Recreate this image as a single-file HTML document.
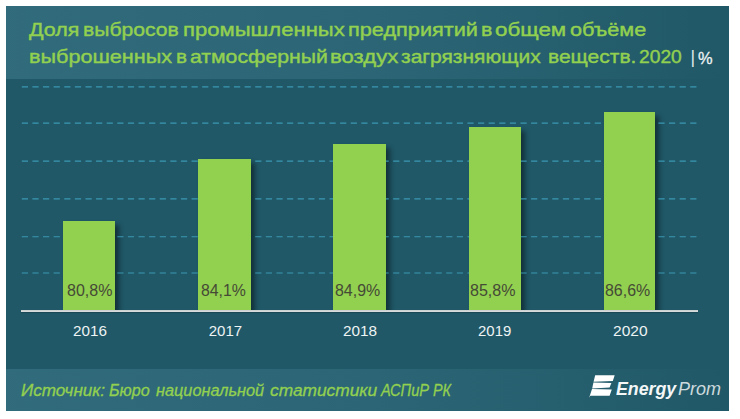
<!DOCTYPE html>
<html lang="ru">
<head>
<meta charset="utf-8">
<title>Доля выбросов промышленных предприятий в общем объёме выброшенных в атмосферный воздух загрязняющих веществ. 2020</title>
<style>
html,body{margin:0;padding:0;background:#fff;}
body{width:740px;height:419px;position:relative;overflow:hidden;font-family:"Liberation Sans",sans-serif;}
#panel{position:absolute;left:6px;top:6px;width:723px;height:405px;background:#205867;overflow:hidden;}
.band{position:absolute;left:0;width:723px;background:linear-gradient(90deg,rgba(72,134,152,0.42) 0%,rgba(72,134,152,0.30) 50%,rgba(72,134,152,0.0) 100%);}
#tband{top:0;height:72.5px;}
#fband{top:363px;height:42px;}
.t{position:absolute;white-space:pre;transform-origin:0 0;line-height:1;font-family:"Liberation Sans",sans-serif;}
#bars,#shadows{position:absolute;left:0;top:0;width:723px;height:304px;overflow:hidden;}
.bar{position:absolute;background:#92D050;}
.sh{box-shadow:4px 4px 5px rgba(0,0,0,.45);}
#axis{position:absolute;left:15px;top:303.8px;width:677px;height:2.2px;background:linear-gradient(#c6cccd,#dde0e0);box-shadow:0 1px 1px rgba(0,0,0,.18);}
</style>
</head>
<body>
<div id="panel">
  <div class="band" id="tband"></div>
  <div class="band" id="fband"></div>

  <h1 style="margin:0;font-size:inherit;font-weight:inherit">
    <span class="t" style="left:22.60px;top:14.60px;font-size:18.6px;-webkit-text-stroke:0.42px #92D050;color:#92D050;transform:scaleX(1.1529)">Доля</span>
    <span class="t" style="left:77.08px;top:14.60px;font-size:18.6px;-webkit-text-stroke:0.42px #92D050;color:#92D050;transform:scaleX(1.1368)">выбросов</span>
    <span class="t" style="left:177.02px;top:14.60px;font-size:18.6px;-webkit-text-stroke:0.42px #92D050;color:#92D050;transform:scaleX(1.1874)">промышленных</span>
    <span class="t" style="left:341.54px;top:14.60px;font-size:18.6px;-webkit-text-stroke:0.42px #92D050;color:#92D050;transform:scaleX(1.1670)">предприятий</span>
    <span class="t" style="left:474.76px;top:14.60px;font-size:18.6px;-webkit-text-stroke:0.42px #92D050;color:#92D050;transform:scaleX(1.1500)">в</span>
    <span class="t" style="left:488.90px;top:14.60px;font-size:18.6px;-webkit-text-stroke:0.42px #92D050;color:#92D050;transform:scaleX(1.2035)">общем</span>
    <span class="t" style="left:564.13px;top:14.60px;font-size:18.6px;-webkit-text-stroke:0.42px #92D050;color:#92D050;transform:scaleX(1.1641)">объёме</span>
    <span class="t" style="left:23.25px;top:41.80px;font-size:18.6px;-webkit-text-stroke:0.42px #92D050;color:#92D050;transform:scaleX(1.1630)">выброшенных</span>
    <span class="t" style="left:169.51px;top:41.80px;font-size:18.6px;-webkit-text-stroke:0.42px #92D050;color:#92D050;transform:scaleX(1.1125)">в</span>
    <span class="t" style="left:184.44px;top:41.80px;font-size:18.6px;-webkit-text-stroke:0.42px #92D050;color:#92D050;transform:scaleX(1.1403)">атмосферный</span>
    <span class="t" style="left:323.81px;top:41.80px;font-size:18.6px;-webkit-text-stroke:0.42px #92D050;color:#92D050;transform:scaleX(1.1911)">воздух</span>
    <span class="t" style="left:394.73px;top:41.80px;font-size:18.6px;-webkit-text-stroke:0.42px #92D050;color:#92D050;transform:scaleX(1.1309)">загрязняющих</span>
    <span class="t" style="left:541.59px;top:41.80px;font-size:18.6px;-webkit-text-stroke:0.42px #92D050;color:#92D050;transform:scaleX(1.1285)">веществ.</span>
    <span class="t" style="left:632.82px;top:41.80px;font-size:18.6px;-webkit-text-stroke:0.42px #92D050;color:#92D050;transform:scaleX(1.0350)">2020</span>
    <span class="t" style="left:684.50px;top:43.15px;font-size:17.6px;color:#dfe9ec;transform:scaleX(1.0000)">|</span>
    <span class="t" style="left:691.72px;top:43.95px;font-size:17.2px;-webkit-text-stroke:0.3px #eef3f4;color:#eef3f4;transform:scaleX(0.9544)">%</span>
  </h1>

  <div id="shadows">
    <div class="bar sh" style="left:57.4px;width:51.8px;top:214.8px;height:100px;"></div>
    <div class="bar sh" style="left:192.2px;width:52.7px;top:153px;height:160px;"></div>
    <div class="bar sh" style="left:326.9px;width:53px;top:137.8px;height:180px;"></div>
    <div class="bar sh" style="left:463px;width:51.8px;top:120.9px;height:200px;"></div>
    <div class="bar sh" style="left:597.9px;width:51.3px;top:106px;height:210px;"></div>
  </div>

  <svg id="grid" style="position:absolute;left:0;top:0" width="723" height="405" viewBox="0 0 723 405" fill="none" stroke="#3FA3BF" stroke-opacity=".85" stroke-width="1.1" stroke-dasharray="6.2 4.41">
    <line x1="15.8" x2="691" y1="80.9" y2="80.9"/>
    <line x1="15.8" x2="691" y1="117.1" y2="117.1"/>
    <line x1="15.8" x2="691" y1="155.1" y2="155.1"/>
    <line x1="15.8" x2="691" y1="192.9" y2="192.9"/>
    <line x1="15.8" x2="691" y1="230.7" y2="230.7"/>
    <line x1="15.8" x2="691" y1="267.0" y2="267.0"/>
  </svg>

  <div id="bars">
    <div class="bar" style="left:57.4px;width:51.8px;top:214.8px;height:100px;"></div>
    <div class="bar" style="left:192.2px;width:52.7px;top:153px;height:160px;"></div>
    <div class="bar" style="left:326.9px;width:53px;top:137.8px;height:180px;"></div>
    <div class="bar" style="left:463px;width:51.8px;top:120.9px;height:200px;"></div>
    <div class="bar" style="left:597.9px;width:51.3px;top:106px;height:210px;"></div>
  </div>
  <div id="axis"></div>

  <div id="values">
    <span class="t" style="left:60.54px;top:276.55px;font-size:15.8px;color:#454a36;transform:scaleX(1.0138)">80,8%</span>
    <span class="t" style="left:194.75px;top:276.55px;font-size:15.8px;color:#454a36;transform:scaleX(1.0023)">84,1%</span>
    <span class="t" style="left:329.44px;top:276.55px;font-size:15.8px;color:#454a36;transform:scaleX(1.0092)">84,9%</span>
    <span class="t" style="left:464.14px;top:276.55px;font-size:15.8px;color:#454a36;transform:scaleX(1.0161)">85,8%</span>
    <span class="t" style="left:598.64px;top:276.55px;font-size:15.8px;color:#454a36;transform:scaleX(1.0092)">86,6%</span>
  </div>
  <div id="years">
    <span class="t" style="left:66.64px;top:317.10px;font-size:15px;color:#eef3f4;transform:scaleX(1.0156)">2016</span>
    <span class="t" style="left:202.75px;top:317.10px;font-size:15px;color:#eef3f4;transform:scaleX(1.0000)">2017</span>
    <span class="t" style="left:337.43px;top:317.10px;font-size:15px;color:#eef3f4;transform:scaleX(1.0219)">2018</span>
    <span class="t" style="left:472.15px;top:317.10px;font-size:15px;color:#eef3f4;transform:scaleX(0.9969)">2019</span>
    <span class="t" style="left:606.62px;top:317.10px;font-size:15px;color:#eef3f4;transform:scaleX(1.0344)">2020</span>
  </div>
  <div id="source">
    <span class="t" style="left:15.25px;top:377.00px;font-size:15.6px;font-style:italic;-webkit-text-stroke:0.3px #92D050;color:#92D050;transform:scaleX(1.0957)">Источник:</span>
    <span class="t" style="left:103.18px;top:377.00px;font-size:15.6px;font-style:italic;-webkit-text-stroke:0.3px #92D050;color:#92D050;transform:scaleX(1.0379)">Бюро</span>
    <span class="t" style="left:149.64px;top:377.00px;font-size:15.6px;font-style:italic;-webkit-text-stroke:0.3px #92D050;color:#92D050;transform:scaleX(1.0447)">национальной</span>
    <span class="t" style="left:264.24px;top:377.00px;font-size:15.6px;font-style:italic;-webkit-text-stroke:0.3px #92D050;color:#92D050;transform:scaleX(1.1112)">статистики</span>
    <span class="t" style="left:375.20px;top:377.00px;font-size:15.6px;font-style:italic;-webkit-text-stroke:0.3px #92D050;color:#92D050;transform:scaleX(0.9391)">АСПиР</span>
    <span class="t" style="left:427.24px;top:377.00px;font-size:15.6px;font-style:italic;-webkit-text-stroke:0.3px #92D050;color:#92D050;transform:scaleX(0.9165)">РК</span>
  </div>

  <svg id="logo" style="position:absolute;left:0;top:0" width="723" height="405" viewBox="0 0 723 405" fill="#fff">
    <polygon points="589.2,369.3 608.7,369.3 606.8,375.0 587.6,375.8"/>
    <polygon points="587.4,376.5 605.4,377.0 603.6,381.6 586.2,382.4"/>
    <polygon points="586.0,383.1 605.8,383.5 603.6,389.7 584.4,389.7 583.0,391.8 583.8,389.7"/>
  </svg>
  <div id="brand">
    <span class="t" style="left:610.25px;top:374.25px;font-size:18px;font-weight:bold;font-style:italic;color:#f4f7f8;transform:scaleX(0.9870)">Energy</span>
    <span class="t" style="left:671.90px;top:374.25px;font-size:18px;font-style:italic;color:#cddadd;transform:scaleX(1.0012)">Prom</span>
  </div>
</div>
</body>
</html>
